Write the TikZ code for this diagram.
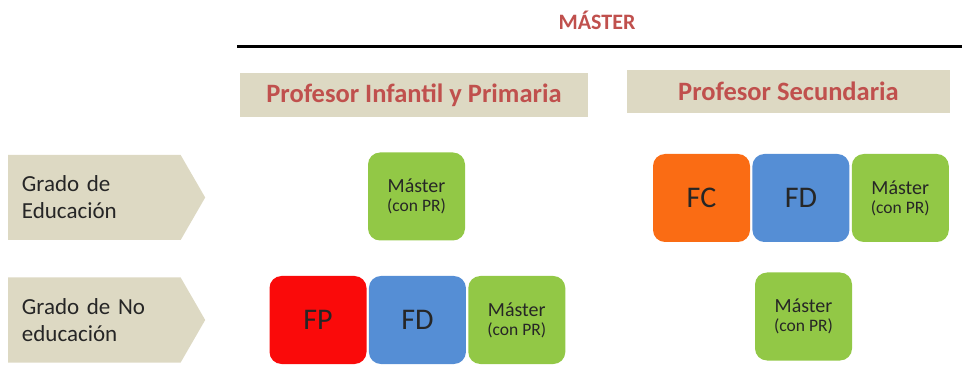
\documentclass[tikz,border=0pt]{standalone}
\usepackage{fontspec}
\setmainfont{Carlito}
\definecolor{titlered}{RGB}{192,80,77}
\definecolor{tanbg}{RGB}{221,217,195}
\definecolor{tilegreen}{RGB}{146,200,70}
\definecolor{tileblue}{RGB}{85,142,213}
\definecolor{tileorange}{RGB}{250,108,20}
\definecolor{tilered}{RGB}{250,10,10}
\usetikzlibrary{positioning,shapes.symbols}

\newcommand{\masterlbl}{Máster\\[-3pt]{\fontsize{17.5}{20}\selectfont (con PR)}}

\begin{document}
\begin{tikzpicture}[x=1pt,y=-1pt,
        node distance=2pt,
        hdr/.style={rectangle, fill=tanbg, minimum height=44pt, font=\fontsize{26.5}{30}\selectfont\bfseries, text=titlered},
        grado/.style={signal, signal to=east, signal pointer angle=120, fill=tanbg, minimum width=197pt, minimum height=85pt, text width=145pt, align=left, inner sep=0pt, font=\fontsize{23}{27}\selectfont, text=black!85},
        tile/.style={rectangle, rounded corners=12pt, minimum width=97pt, minimum height=88pt, align=center, inner sep=0pt, text=black!85},
        big/.style={tile, font=\fontsize{30}{34}\selectfont},
        mas/.style={tile, fill=tilegreen, font=\fontsize{20}{22}\selectfont}
    ]
        \useasboundingbox (0,0) rectangle (962,366);

        % Title
        \node[font=\fontsize{22}{26}\selectfont\bfseries, text=titlered] (title) at (597,20) {MÁSTER};
        \coordinate (rulel) at (237,47);
        \coordinate (ruler) at (962,47);
        \draw[line width=3pt] (rulel) -- (ruler);

        % Column headers
        \node[hdr, minimum width=348pt] (prim) at (414,95.5) {Profesor Infantil y Primaria};
        \node[hdr, minimum width=323pt, minimum height=43pt] (secu) at (788.5,91.5) {Profesor Secundaria};

        % Row labels
        \node[grado, anchor=west] (edu) at (8,197.5) {Grado de\\Educación};
        \node[grado, anchor=west] (noedu) at (8,320) {Grado de No\\educación};

        % Row 1
        \node[mas] (m1) at (416.5,196.5) {\masterlbl};
        \node[big, fill=tileorange] (fc) at (701.5,198) {FC};
        \node[big, fill=tileblue, right=of fc] (fd1) {FD};
        \node[mas, right=of fd1] (m2) {\masterlbl};

        % Row 2
        \node[big, fill=tilered] (fp) at (318,320) {FP};
        \node[big, fill=tileblue, right=of fp] (fd2) {FD};
        \node[mas, right=of fd2] (m3) {\masterlbl};
        \node[mas] (m4) at (803.5,316.5) {\masterlbl};
    \end{tikzpicture}
\end{document}
